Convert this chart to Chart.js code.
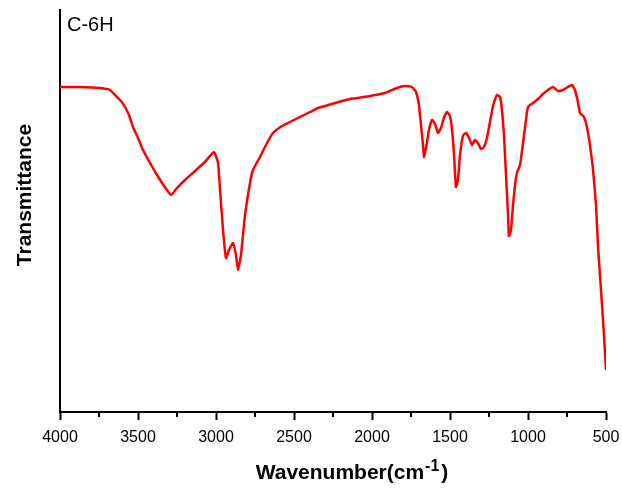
<!DOCTYPE html>
<html>
<head>
<meta charset="utf-8">
<script src="https://cdn.jsdelivr.net/npm/chart.js@4"></script>
<style>
  html, body { margin: 0; padding: 0; background: #fff; }
  #wrap { width: 622px; height: 489px; }
</style>
</head>
<body>
<div id="wrap"><canvas id="irChart" width="622" height="489"></canvas></div>
<script>
// IR spectrum C-6H (transmittance in arbitrary units)
const wavenumbers = [
  4000, 3872, 3744, 3679, 3635, 3609, 3583, 3558, 3532, 3500, 3468, 3423, 3378, 3333, 3288,
  3250, 3199, 3135, 3071, 3013, 2987, 2974, 2955, 2936, 2917, 2891, 2872, 2859, 2840, 2814,
  2782, 2763, 2718, 2673, 2635, 2577, 2526, 2462, 2397, 2346, 2301, 2237, 2141, 2013, 1917,
  1840, 1788, 1744, 1718, 1699, 1686, 1673, 1667, 1654, 1635, 1615, 1596, 1577, 1558, 1539,
  1519, 1500, 1487, 1474, 1462, 1449, 1436, 1417, 1398, 1378, 1359, 1340, 1321, 1301, 1282,
  1263, 1244, 1224, 1199, 1179, 1167, 1154, 1141, 1128, 1122, 1109, 1096, 1083, 1071, 1051,
  1032, 1013, 1000, 968, 936, 904, 872, 840, 808, 776, 744, 718, 699, 680, 667,
  654, 641, 622, 603, 583, 564, 551, 532, 513, 500
];
const transmittance = [
  325, 325, 324, 322, 315, 311, 305, 297, 285, 274, 262, 249, 237, 226, 217,
  224, 232, 241, 250, 260, 249, 222, 182, 154, 162, 169, 157, 142, 157, 197,
  229, 242, 255, 269, 279, 286, 290, 295, 300, 304, 306, 309, 313, 316, 319,
  324, 326, 325, 320, 307, 287, 267, 255, 264, 282, 292, 288, 279, 284, 294,
  300, 296, 282, 257, 225, 232, 257, 276, 279, 274, 267, 272, 269, 263, 265,
  274, 290, 306, 317, 315, 302, 277, 237, 197, 176, 182, 207, 227, 239, 247,
  269, 292, 305, 309, 313, 318, 322, 325, 321, 322, 325, 327, 322, 310, 299,
  297, 295, 285, 267, 242, 207, 165, 122, 77, 42
];
const xTicks = [4000, 3500, 3000, 2500, 2000, 1500, 1000, 500];
const sampleName = "C-6H";

const points = wavenumbers.map((w, i) => ({ x: w, y: transmittance[i] }));
const FONT = '"Liberation Sans", Arial, sans-serif';

// minor ticks, titles (with superscript) and the sample label
const decorPlugin = {
  id: 'decor',
  afterDraw(chart) {
    const ctx = chart.ctx;
    const xs = chart.scales.x;
    const bottom = chart.chartArea.bottom;
    ctx.save();
    ctx.strokeStyle = '#000';
    ctx.lineWidth = 2;
    for (let i = 0; i < xTicks.length - 1; i++) {
      const px = xs.getPixelForValue(xTicks[i] - 250);
      ctx.beginPath();
      ctx.moveTo(px, bottom);
      ctx.lineTo(px, bottom + 5);
      ctx.stroke();
    }

    ctx.fillStyle = '#000';
    // sample name
    ctx.font = '20px ' + FONT;
    ctx.textBaseline = 'middle';
    ctx.textAlign = 'left';
    ctx.fillText(sampleName, 67, 25);

    // y title
    ctx.font = 'bold 21px ' + FONT;
    ctx.save();
    ctx.translate(25, 195);
    ctx.rotate(-Math.PI / 2);
    ctx.textAlign = 'center';
    ctx.fillText('Transmittance', 0, 0);
    ctx.restore();

    // x title: Wavenumber(cm^-1)
    ctx.textBaseline = 'alphabetic';
    const base = 'Wavenumber(cm';
    const sup = '-1';
    ctx.font = 'bold 21px ' + FONT;
    const wBase = ctx.measureText(base).width;
    const wClose = ctx.measureText(')').width;
    ctx.font = 'bold 16px ' + FONT;
    const wSup = ctx.measureText(sup).width;
    const total = wBase + wSup + wClose + 3;
    const x0 = 352 - total / 2;
    const y0 = 479;
    ctx.font = 'bold 21px ' + FONT;
    ctx.fillText(base, x0, y0);
    ctx.font = 'bold 16px ' + FONT;
    ctx.fillText(sup, x0 + wBase + 1, y0 - 8);
    ctx.font = 'bold 21px ' + FONT;
    ctx.fillText(')', x0 + wBase + wSup + 3, y0);
    ctx.restore();
  }
};

new Chart(document.getElementById('irChart'), {
  type: 'line',
  data: {
    datasets: [{
      label: sampleName,
      data: points,
      borderColor: '#ff0000',
      borderWidth: 2.5,
      pointRadius: 0,
      tension: 0.15,
      fill: false
    }]
  },
  options: {
    responsive: false,
    animation: false,
    layout: { padding: { top: 10, right: 16, left: 0, bottom: 0 } },
    plugins: { legend: { display: false }, tooltip: { enabled: false } },
    scales: {
      x: {
        type: 'linear',
        reverse: true,
        min: 500,
        max: 4000,
        afterBuildTicks: (scale) => { scale.ticks = xTicks.map(v => ({ value: v })); },
        afterFit: (scale) => {
          scale.height = 77;
          scale.paddingLeft = 0;
          scale.paddingRight = 0;
        },
        ticks: {
          color: '#000',
          font: { family: FONT, size: 16 },
          padding: 8,
          maxRotation: 0,
          autoSkip: false,
          callback: (v) => String(v)
        },
        grid: { drawOnChartArea: false, drawTicks: true, tickLength: 8, tickColor: '#000', tickWidth: 2 },
        border: { display: true, color: '#000', width: 2 }
      },
      y: {
        min: 0,
        max: 402,
        afterFit: (scale) => { scale.width = 60; },
        ticks: { display: false },
        grid: { display: false },
        border: { display: true, color: '#000', width: 2 }
      }
    }
  },
  plugins: [decorPlugin]
});
</script>
</body>
</html>
